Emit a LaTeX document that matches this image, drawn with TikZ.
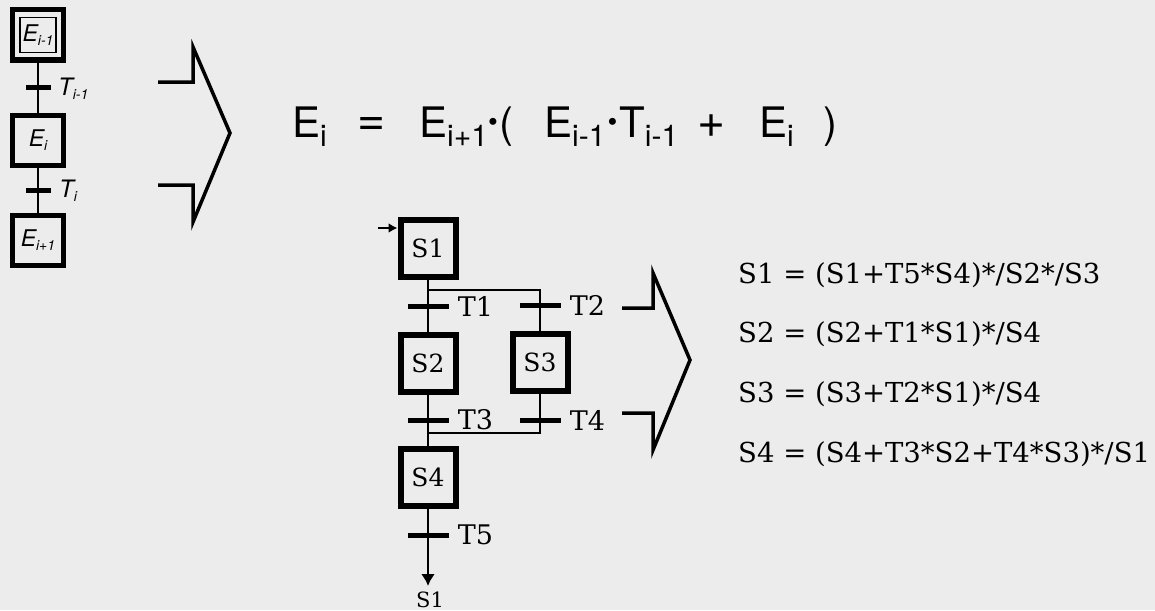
\documentclass[tikz,border=0pt]{standalone}
\usepackage{fontspec}
\setmainfont{DejaVu Serif}
\newfontfamily\helv{TeX Gyre Heros}
\usetikzlibrary{arrows.meta}
\definecolor{paper}{RGB}{236,236,236}

% small lowered index for the left chain, large one for the formula
\newcommand{\lsub}[1]{\raisebox{-4pt}{\fontsize{14}{14}\selectfont #1}}
\newcommand{\msub}[1]{\raisebox{-9pt}{\fontsize{30}{30}\selectfont #1}}
\newcommand{\mdot}{\raisebox{6pt}{\fontsize{28}{28}\selectfont •}}

\begin{document}
\begin{tikzpicture}[x=1pt,y=-1pt,
		every node/.style={inner sep=0pt},
		leftbox/.style={draw, line width=5pt, minimum width=51pt,
			minimum height=50pt, font=\helv\itshape\fontsize{23}{23}\selectfont},
		stepbox/.style={draw, line width=6pt, minimum width=55pt,
			minimum height=57pt, font=\fontsize{25}{25}\selectfont},
		bar/.style={fill=black, minimum width=41pt, minimum height=5pt},
		tlbl/.style={font=\fontsize{27}{27}\selectfont, xshift=9pt},
		llbl/.style={anchor=base west, font=\helv\itshape\fontsize{24}{24}\selectfont},
		link/.style={line width=2.6pt},
		chev/.style={line width=3.5pt, line join=miter},
		big/.style={anchor=base west, font=\helv\fontsize{42}{42}\selectfont},
		eqn/.style={anchor=base west, font=\fontsize{27.5}{27.5}\selectfont}]

		% The sheet, its size fixes the picture.
		\fill[paper] (0,0) rectangle (1155,610);

		% Generic chain of steps on the left.
		\node[leftbox] (Eim1) at (38,35) {E\lsub{i-1}};
		\draw[line width=1.4pt]
			([shift={(10pt,-10pt)}]Eim1.north west) rectangle
			([shift={(-10pt,10pt)}]Eim1.south east);
		\node[leftbox] (Ei) at (38,140) {E\lsub{i}};
		\node[leftbox] (Eip1) at (38,240) {E\lsub{i+1}};
		\draw[link] (Eim1) -- (Ei);
		\draw[link] (Ei) -- (Eip1);
		\node[bar, minimum width=25pt] (tim1) at (38,87) {};
		\node[bar, minimum width=25pt] (ti) at (38,190) {};
		\node[llbl] (ltim1) at (58,95) {T\lsub{i-1}};
		\node[llbl] (lti) at (59,197) {T\lsub{i}};

		% Implication signs.
		\draw[chev] (158,82) -- (193,82) -- (193,47) -- (230,133)
			-- (193,222) -- (193,185) -- (158,185);
		\draw[chev] (622,308) -- (653,308) -- (653,273) -- (690,360)
			-- (653,450) -- (653,413) -- (622,413);

		% The general activation equation.
		\node[big] (m1) at (292,137) {E\msub{i}};
		\node[big, font=\helv\fontsize{48}{48}\selectfont] (m2) at (357,135) {=};
		\node[big] (m3) at (419,137) {E\msub{i+1}\mdot};
		\node[big] (m4) at (499,137) {(};
		\node[big] (m5) at (544,137) {E\msub{i-1}\hspace{2pt}\mdot};
		\node[big] (m6) at (619,137) {T\msub{i-1}};
		\node[big, font=\helv\fontsize{48}{48}\selectfont] (m7) at (697,137) {+};
		\node[big] (m8) at (759,137) {E\msub{i}};
		\node[big] (m9) at (823,137) {)};

		% The example chart.
		\node[stepbox] (S1) at (428,248) {S1};
		\node[stepbox] (S2) at (428,363) {S2};
		\node[stepbox] (S3) at (540,362) {S3};
		\node[stepbox] (S4) at (428,477) {S4};

		\coordinate (init) at (378,228);
		\coordinate (fork) at (428,290);
		\coordinate (forkR) at (540,290);
		\coordinate (join) at (428,433);
		\coordinate (joinR) at (540,433);
		\coordinate (exit) at (428,586);

		\draw[link, -{Latex[length=9pt,width=10pt]}] (init) -- (S1.west |- init);
		\draw[link] (S1) -- (S2);
		\draw[link] (fork) -- (forkR) -- (S3);
		\draw[link] (S2) -- (S4);
		\draw[link] (S3) -- (joinR) -- (join);
		\draw[link, -{Latex[length=12pt,width=14pt]}] (S4) -- (exit);

		\node[bar, label={[tlbl]right:T1}] (t1) at (428,306) {};
		\node[bar, label={[tlbl]right:T2}] (t2) at (540,305) {};
		\node[bar, label={[tlbl]right:T3}] (t3) at (428,420) {};
		\node[bar, label={[tlbl]right:T4}] (t4) at (540,420) {};
		\node[bar, label={[tlbl]right:T5}] (t5) at (428,535) {};
		\node[anchor=base, font=\fontsize{21}{21}\selectfont] (back) at (430,607) {S1};

		% Equations of the example.
		\node[eqn] (e1) at (738,283) {S1 = (S1+T5*S4)*/S2*/S3};
		\node[eqn] (e2) at (738,342) {S2 = (S2+T1*S1)*/S4};
		\node[eqn] (e3) at (738,402) {S3 = (S3+T2*S1)*/S4};
		\node[eqn] (e4) at (738,462) {S4 = (S4+T3*S2+T4*S3)*/S1};
	\end{tikzpicture}
\end{document}
